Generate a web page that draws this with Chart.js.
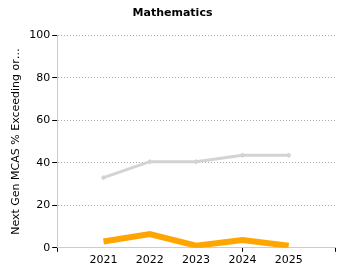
<!DOCTYPE html>
<html>
<head>
<meta charset="utf-8">
<script src="https://cdn.jsdelivr.net/npm/chart.js@4"></script>
<style>
  html, body { margin: 0; padding: 0; background: #fff; }
  #wrap { width: 350px; height: 280px; }
</style>
</head>
<body>
<div id="wrap"><canvas id="chart"></canvas></div>
<script>
// empty slots at both ends pad the x axis like the original
const years = ['', '2021', '2022', '2023', '2024', '2025', ''];
const stateValues = [null, 33, 40.5, 40.5, 43.5, 43.5, null];
const schoolValues = [null, 3, 6.5, 1, 3.7, 1, null];
const yTicks = [0, 20, 40, 60, 80, 100];

const font = '"DejaVu Sans", Verdana, sans-serif';

const ctx = document.getElementById('chart').getContext('2d');
new Chart(ctx, {
  type: 'line',
  data: {
    labels: years,
    datasets: [
      {
        label: 'State',
        data: stateValues,
        borderColor: '#d3d3d3',
        backgroundColor: '#d3d3d3',
        borderWidth: 3,
        pointRadius: 2,
        pointStyle: 'crossRot',
        tension: 0
      },
      {
        label: 'School',
        data: schoolValues,
        borderColor: '#ffa500',
        backgroundColor: '#ffa500',
        borderWidth: 6,
        pointRadius: 0,
        tension: 0
      }
    ]
  },
  options: {
    responsive: true,
    maintainAspectRatio: false,
    animation: false,
    layout: { padding: { top: 5, right: 15, bottom: 11, left: 10 } },
    plugins: {
      legend: { display: false },
      tooltip: { enabled: false },
      title: {
        display: true,
        text: 'Mathematics',
        color: '#000',
        font: { family: font, size: 11, weight: 'bold' },
        padding: { top: 2, bottom: 15 }
      }
    },
    scales: {
      x: {
        offset: false,
        border: { color: '#cccccc', width: 1 },
        grid: {
          display: true,
          drawOnChartArea: false,
          tickLength: 4,
          tickColor: (c) => (c.index === 0 || c.index === 4 || c.index === 6) ? '#000' : 'rgba(0,0,0,0)'
        },
        ticks: {
          color: '#000',
          font: { family: font, size: 11 },
          padding: 2,
          maxRotation: 0,
          autoSkip: false
        }
      },
      y: {
        min: 0,
        max: 100,
        afterBuildTicks: (axis) => { axis.ticks = yTicks.map(v => ({ value: v })); },
        border: { color: '#cccccc', width: 1, dash: [1, 2] },
        grid: {
          color: (c) => c.tick && c.tick.value === 0 ? 'rgba(0,0,0,0)' : '#aaaaaa',
          lineWidth: 1,
          tickColor: '#000',
          tickLength: 5
        },
        ticks: {
          color: '#000',
          font: { family: font, size: 11 },
          padding: 2
        },
        title: {
          display: true,
          text: 'Next Gen MCAS % Exceeding or…',
          color: '#000',
          font: { family: font, size: 11 },
          padding: { top: 0, bottom: 4 }
        }
      }
    }
  }
});
</script>
</body>
</html>
